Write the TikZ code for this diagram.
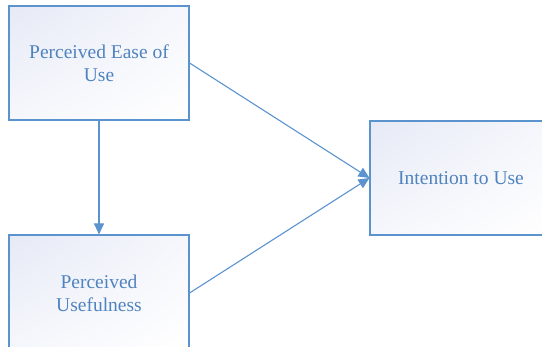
\documentclass[tikz,border=0pt]{standalone}
\usepackage{fontspec}
\setmainfont{Liberation Serif}
\usetikzlibrary{arrows.meta,shadings}
\definecolor{bord}{HTML}{5B93CF}
\definecolor{txt}{HTML}{4F83BF}
\definecolor{ul}{HTML}{E6EAF6}
\definecolor{mid}{HTML}{F6F7FC}
\begin{document}
\begin{tikzpicture}[x=1pt,y=-1pt,
  box/.style={draw=bord,line width=1.1pt,minimum width=180pt,minimum height=114pt,
    upper left=ul,upper right=mid,lower left=mid,lower right=white,
    text=txt,font=\fontsize{19.5}{23}\selectfont,align=center,inner sep=0pt},
  conn/.style={draw=bord,line width=1.1pt,-{Triangle[length=11pt,width=10pt]}}]
\useasboundingbox (0,0) rectangle (542,347);
\clip (0,0) rectangle (542,347);
\node[box] (peou) at (99,63) {Perceived Ease of\\Use};
\node[box,minimum height=116pt] (pu) at (99,293) {Perceived\\Usefulness};
\node[box,minimum width=182pt] (itu) at (461,178) {Intention to Use};
\draw[conn] (peou.south) -- (pu.north);
\draw[conn] (peou.east) -- (itu.west);
\draw[conn] (pu.east) -- (itu.west);
\end{tikzpicture}
\end{document}
